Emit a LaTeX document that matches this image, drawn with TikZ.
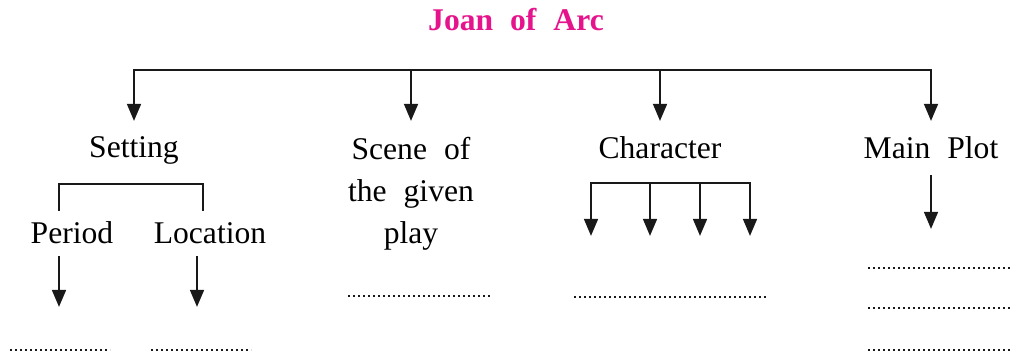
\documentclass[tikz,border=0pt]{standalone}
\usepackage{fontspec}
\setmainfont{Liberation Serif}
\usepackage{xcolor}
\usetikzlibrary{arrows.meta}
\definecolor{joanpink}{RGB}{230,20,140}
\newcommand{\widespace}{\spaceskip 8.5pt plus 1pt\relax}
\newcommand{\titlefont}{\fontsize{15.8}{19}\selectfont\bfseries\widespace}
\newcommand{\labelfont}{\fontsize{15.8}{21}\selectfont\widespace}

\begin{document}
\begin{tikzpicture}[x=0.5pt, y=0.5pt, >={Triangle[length=8.5pt,width=6.8pt]},
    line/.style={draw=black!90, line width=1.3pt},
    arr/.style={line, ->},
    heading/.style={inner sep=0pt, text=joanpink, font=\titlefont},
    head/.style={inner sep=0pt, outer ysep=8pt, align=center, font=\labelfont},
    sub/.style={head, outer ysep=6pt},
    fillin/.style={draw=black!90, line width=1.1pt, dash pattern=on 1.1pt off 1.4pt}]

    \useasboundingbox (0,0) rectangle (1010,-357);

    % Nodes
    \node [heading, anchor=base] (title) at (516,-31) {Joan of Arc};
    \node [head, anchor=north] (setting) at (134,-121) {Setting};
    \node [head, anchor=north] (scene) at (411,-121) {Scene of\\the given\\play};
    \node [head, anchor=north] (character) at (660,-121) {Character};
    \node [head, anchor=north] (plot) at (931,-121) {Main Plot};

    \node [sub, anchor=base] (period) at (72,-244) {Period};
    \node [sub, anchor=base] (location) at (210,-244) {Location};

    % Main branches
    \coordinate (busL) at (134,-70);
    \coordinate (busR) at (931,-70);
    \draw [arr] (busR) -| (setting);
    \draw [arr] (busL) -| (plot);
    \draw [arr] (scene |- busL) -- (scene);
    \draw [arr] (character |- busL) -- (character);

    % Setting
    \coordinate (perleg) at (59,-211);
    \coordinate (locleg) at (203,-211);
    \draw [line] (perleg) -- ++(0,27) -| (locleg);
    \coordinate (pertip) at (59,-307);
    \coordinate (loctip) at (197,-307);
    \draw [arr] (pertip |- period.south) -- (pertip);
    \draw [arr] (loctip |- location.south) -- (loctip);

    % Character
    \coordinate (chL) at (591,-183);
    \coordinate (chR) at (750,-183);
    \draw [arr] (chR) -| ++(-159,-53);
    \draw [arr] (chL) -| ++(159,-53);
    \foreach \x in {650,700}
        \draw [arr] (\x,-183) -- (\x,-236);

    % Main plot
    \coordinate (plottip) at (931,-229);
    \draw [arr] (plot) -- (plottip);

    % Blanks to fill in
    \draw [fillin] (10,-350) -- (110,-350);
    \draw [fillin] (151,-350) -- (251,-350);
    \draw [fillin] (348,-296) -- (492,-296);
    \draw [fillin] (574,-297) -- (767,-297);
    \foreach \y in {268,308,350}
        \draw [fillin] (868,-\y) -- (1010,-\y);

\end{tikzpicture}
\end{document}
